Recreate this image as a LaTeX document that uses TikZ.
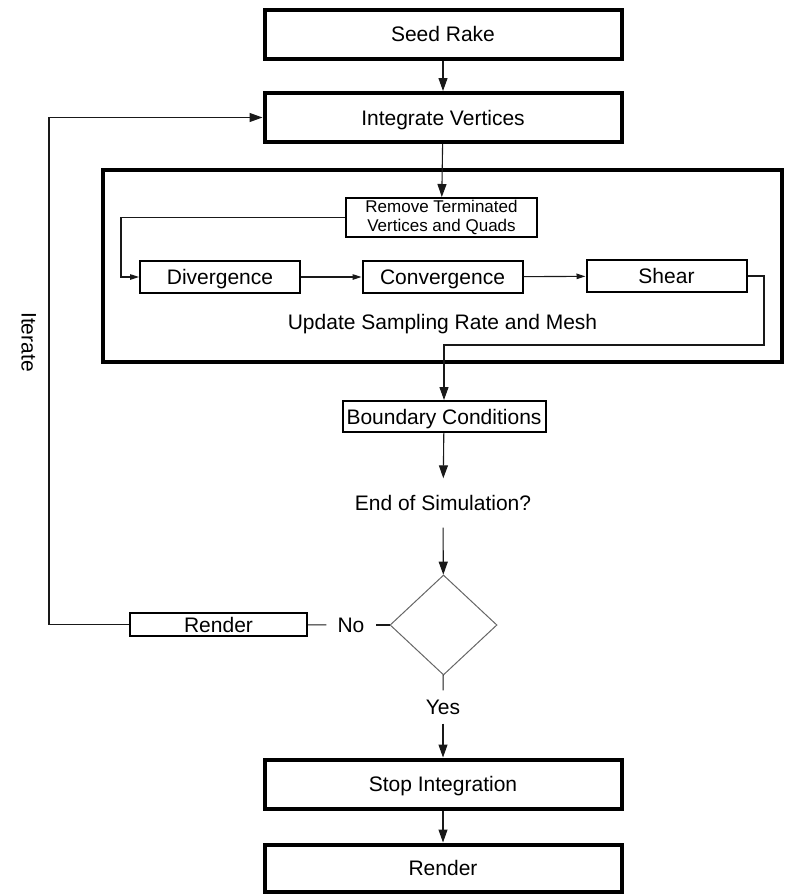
\documentclass[tikz,border=0pt]{standalone}
\usepackage{fontspec}
\setmainfont{Liberation Sans}
\usetikzlibrary{arrows.meta,shapes.geometric}

\tikzset{
	stage/.style={draw, line width=4pt, inner sep=0pt, minimum width=357pt, minimum height=49pt},
	substage/.style={draw, line width=2pt, inner sep=0pt, minimum height=32pt},
	link/.style={line width=1.1pt, draw=black!90},
	flow/.style={link, -{Triangle[length=13pt,width=9pt]}},
	subflow/.style={link, -{Triangle[length=9pt,width=5.5pt]}},
}

\begin{document}
\begin{tikzpicture}[x=1pt, y=-1pt,
		every node/.style={font=\fontsize{21}{25}\selectfont, text height=17pt, text depth=2pt}]
	\useasboundingbox (0,0) rectangle (787,894);

	% main chain
	\node[stage] (seed) at (443,34) {Seed Rake};
	\node[stage] (integrate) at (443,117.5) {Integrate Vertices};

	% mesh update block
	\node[draw, line width=4.5pt, inner sep=0pt, minimum width=679pt, minimum height=192pt] (mesh) at (442.5,266) {};
	\node[substage, minimum width=191pt, minimum height=39pt, align=center,
		font=\fontsize{17}{19}\selectfont, text height={}, text depth={}] (remove) at (441.5,217.5)
		{Remove Terminated\\Vertices and Quads};
	\node[substage, minimum width=160pt] (div) at (220,277) {Divergence};
	\node[substage, minimum width=160pt] (conv) at (442.5,277) {Convergence};
	\node[substage, minimum width=160pt] (shear) at (666.5,276) {Shear};
	\node (update) at (442.5,322) {Update Sampling Rate and Mesh};

	\node[substage, minimum width=203pt, minimum height=31pt] (bound) at (444,416.5) {Boundary Conditions};
	\node[inner ysep=15pt] (endsim) at (443,503) {End of Simulation?};
	\node[draw=black!60, line width=1pt, shape=diamond, minimum width=107pt, minimum height=100pt, inner sep=0pt] (decide) at (443.5,625) {};
	\node[inner xsep=11pt] (no) at (351,625) {No};
	\node[substage, minimum width=177pt, minimum height=23pt] (redo) at (218.5,624.5) {Render};
	\node[inner ysep=7pt] (yes) at (443,707) {Yes};
	\node[stage] (stop) at (443,784) {Stop Integration};
	\node[stage, minimum height=47pt] (render) at (443,868) {Render};
	\node[rotate=-90] (iterate) at (29,342) {Iterate};

	% connectors
	\draw[flow] (seed) -- (integrate);
	\draw[flow] (integrate) -- (remove);
	\draw[subflow] (remove.west) -| (121,277) -- (div.west);
	\draw[subflow] (div) -- (conv);
	\draw[subflow] (conv) -- (shear);
	\draw[flow] (shear.east) -- (764,276) |- (bound.north |- 0,345) -- (bound.north);
	\draw[flow] (bound) -- (endsim);
	\draw[flow] (endsim) -- (decide);
	\draw[link] (decide) -- (no);
	\draw[link] (no) -- (redo);
	\draw[flow] (redo.west) -- (49,624.5) |- (integrate.west);
	\draw[link] (decide) -- (yes);
	\draw[flow] (yes) -- (stop);
	\draw[flow] (stop) -- (render);
\end{tikzpicture}
\end{document}
